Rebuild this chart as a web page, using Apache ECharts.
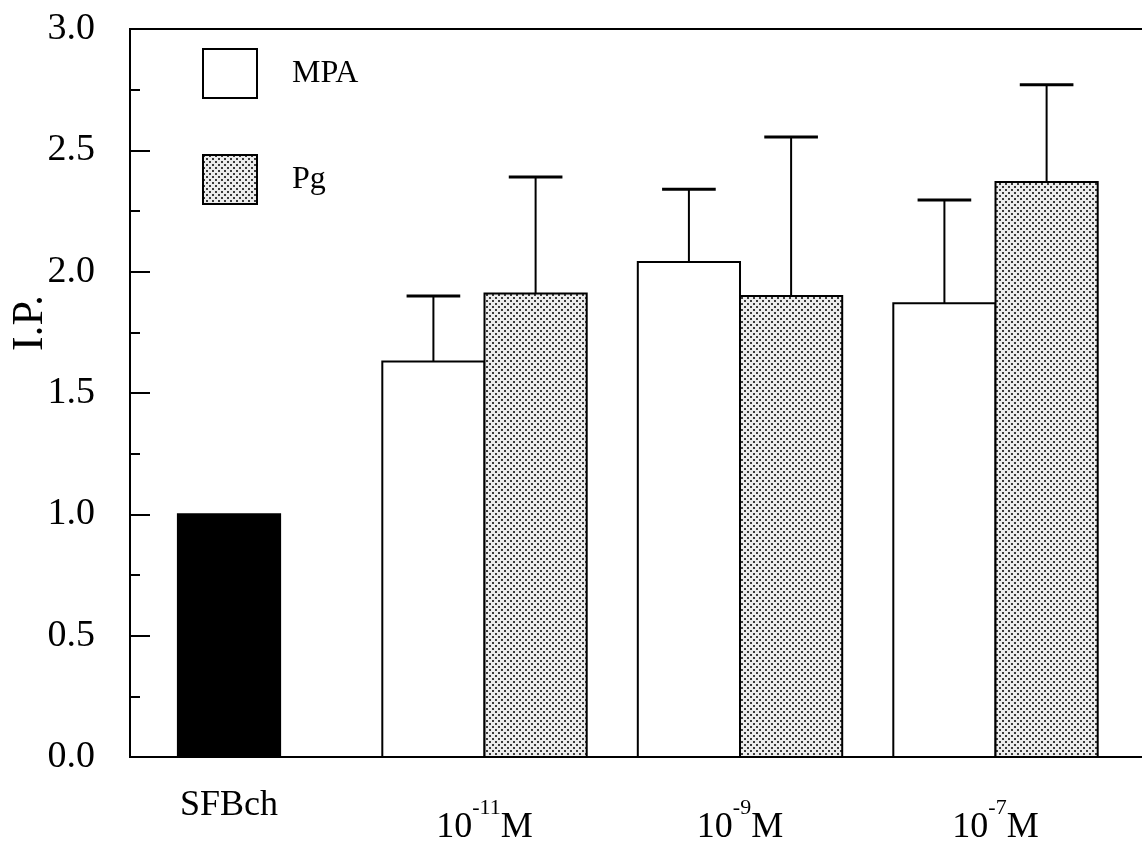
<!DOCTYPE html>
<html>
<head>
<meta charset="utf-8">
<script src="https://cdn.jsdelivr.net/npm/echarts@6/dist/echarts.min.js"></script>
<style>
html,body{margin:0;padding:0;background:#fff;}
#chart{width:1142px;height:844px;}
</style>
</head>
<body>
<div id="chart"></div>
<script>
// ---- data ----
const categories = ['SFBch', '10{s|-11}M', '10{s|-9}M', '10{s|-7}M'];
const controlValue = [1.00];
const mpaValues = [1.63, 2.04, 1.87];
const mpaErrors = [0.27, 0.30, 0.425];
const pgValues = [1.91, 1.90, 2.37];
const pgErrors = [0.48, 0.655, 0.40];
const yTicks = [0, 0.5, 1.0, 1.5, 2.0, 2.5, 3.0];

const FONT = '"Liberation Serif", "DejaVu Serif", serif';
const BAR_W = 0.4;
const CAP_W = 0.21;

function makePattern() {
  const c = document.createElement('canvas');
  c.width = 6; c.height = 6;
  const g = c.getContext('2d');
  g.fillStyle = '#ececec';
  g.fillRect(0, 0, 6, 6);
  g.fillStyle = '#3a3a3a';
  g.fillRect(0, 0, 2, 2);
  g.fillRect(3, 3, 2, 2);
  return c;
}
const pattern = { image: makePattern(), repeat: 'repeat' };

function render(offset, fill) {
  return function (params, api) {
    const x = api.value(0) + offset;
    const v = api.value(1);
    const e = api.value(2);
    const top = api.coord([x, v]);
    const base = api.coord([x, 0]);
    const w = api.size([BAR_W, 0])[0];
    const children = [{
      type: 'rect',
      shape: { x: top[0] - w / 2, y: top[1], width: w, height: base[1] - top[1] },
      style: { fill: fill, stroke: '#000', lineWidth: 2 }
    }];
    if (e > 0) {
      const t = api.coord([x, v + e]);
      const cw = api.size([CAP_W, 0])[0];
      children.push({ type: 'line', shape: { x1: top[0], y1: top[1], x2: top[0], y2: t[1] },
        style: { stroke: '#000', lineWidth: 2 } });
      children.push({ type: 'line', shape: { x1: top[0] - cw / 2, y1: t[1], x2: top[0] + cw / 2, y2: t[1] },
        style: { stroke: '#000', lineWidth: 3 } });
    }
    return { type: 'group', children: children };
  };
}

const controlData = controlValue.map((v, i) => [i, v, 0]);
const mpaData = mpaValues.map((v, i) => [i + 1, v, mpaErrors[i]]);
const pgData = pgValues.map((v, i) => [i + 1, v, pgErrors[i]]);

const chart = echarts.init(document.getElementById('chart'), null, { renderer: 'canvas' });
chart.setOption({
  backgroundColor: '#fff',
  animation: false,
  grid: { left: 130, top: 29, width: 1030, height: 728, show: true, borderColor: '#000', borderWidth: 2,
          containLabel: false, outerBoundsMode: 'none' },
  legend: {
    orient: 'vertical', left: 197, top: 43, itemWidth: 54, itemHeight: 49, itemGap: 55,
    icon: 'rect',
    textStyle: { fontFamily: FONT, fontSize: 32, color: '#000', padding: [0, 0, 0, 30] },
    data: [
      { name: 'MPA', itemStyle: { color: '#fff', borderColor: '#000', borderWidth: 2 } },
      { name: 'Pg', itemStyle: { color: pattern, borderColor: '#000', borderWidth: 2 } }
    ]
  },
  xAxis: {
    type: 'value', min: -0.3875, max: 3.6438,
    axisLine: { lineStyle: { color: '#000', width: 2 } },
    axisTick: { show: false },
    splitLine: { show: false },
    axisLabel: {
      customValues: [0, 1, 2, 3],
      margin: 31,
      formatter: function (v) {
        const i = Math.round(v);
        return i === 0 ? '{a|' + categories[0] + '}' : '{m|' + categories[i].replace('{s|', '}{s|').replace('}M', '}{m|M') + '}';
      },
      rich: {
        a: { fontFamily: FONT, fontSize: 36, color: '#000', lineHeight: 40, verticalAlign: 'top' },
        m: { fontFamily: FONT, fontSize: 36, color: '#000', lineHeight: 40, verticalAlign: 'bottom' },
        s: { fontFamily: FONT, fontSize: 22, color: '#000', lineHeight: 58, padding: [9, 0, 27, 0], verticalAlign: 'top' }
      }
    }
  },
  yAxis: {
    type: 'value', min: 0, max: 3, interval: 0.5,
    name: 'I.P.', nameLocation: 'middle', nameGap: 78, nameMoveOverlap: false,
    nameTextStyle: { fontFamily: FONT, fontSize: 44, color: '#000', padding: [0, 0, 0, 140] },
    axisLine: { show: true, onZero: false, lineStyle: { color: '#000', width: 2 } },
    axisTick: { show: true, inside: true, length: 20, lineStyle: { color: '#000', width: 2 } },
    minorTick: { show: true, splitNumber: 2, length: 10, lineStyle: { color: '#000', width: 2 } },
    splitLine: { show: false },
    axisLabel: {
      fontFamily: FONT, fontSize: 38, color: '#000', margin: 35,
      formatter: function (v) { return yTicks.indexOf(v) >= 0 ? v.toFixed(1) : ''; }
    }
  },
  series: [
    { name: 'SFBch', type: 'custom', renderItem: render(0, '#000'), data: controlData,
      itemStyle: { color: '#000' } },
    { name: 'MPA', type: 'custom', renderItem: render(-BAR_W / 2, '#fff'), data: mpaData,
      itemStyle: { color: '#fff', borderColor: '#000', borderWidth: 2 } },
    { name: 'Pg', type: 'custom', renderItem: render(BAR_W / 2, pattern), data: pgData,
      itemStyle: { color: pattern, borderColor: '#000', borderWidth: 2 } }
  ]
});
</script>
</body>
</html>
